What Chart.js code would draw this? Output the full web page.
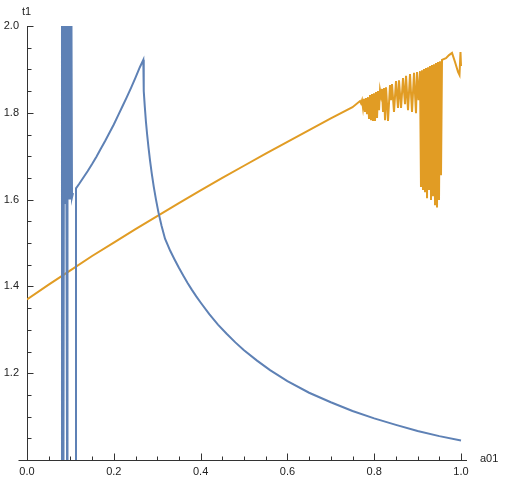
<!DOCTYPE html>
<html><head><meta charset="utf-8">
<script src="https://cdn.jsdelivr.net/npm/chart.js@4/dist/chart.umd.min.js"></script>
<style>html,body{margin:0;padding:0;background:#fff}#wrap{width:505px;height:480px}</style>
</head><body><div id="wrap"><canvas id="c" width="505" height="480"></canvas></div>
<script>
// ---- data ----
const blueX = [0.0806,0.0806,0.0829,0.0841,0.0853,0.0876,0.0899,0.0922,0.0933,0.0956,0.0979,0.1002,0.1025,0.1037,0.1060,0.1080,
  0.1129,0.1129,0.12,0.13,0.14,0.15,0.16,0.17,0.18,0.19,0.20,0.21,0.22,0.23,0.24,0.25,0.26,0.268,
  0.2685,0.2695,0.2715,0.2740,0.2768,0.2800,0.2835,0.2875,0.2920,0.2972,0.3030,0.3100,0.3180,
  0.33,0.34,0.35,0.36,0.37,0.38,0.39,0.40,0.42,0.44,0.46,0.48,0.50,0.53,0.56,0.60,0.65,0.70,0.75,0.80,0.85,0.90,0.95,1.00];
const blueY = [1.0,2.0,1.60,1.0,2.0,1.59,2.0,1.0,2.0,1.60,2.0,1.60,2.0,1.605,1.615,null,
  1.0,1.626,1.636,1.651,1.666,1.682,1.699,1.717,1.735,1.754,1.773,1.794,1.815,1.836,1.858,1.881,1.905,1.922,
  1.880,1.850,1.813,1.780,1.750,1.720,1.690,1.660,1.630,1.600,1.570,1.540,1.510,
  1.482,1.462,1.443,1.425,1.408,1.392,1.377,1.363,1.336,1.312,1.291,1.271,1.253,1.229,1.207,1.182,1.155,1.133,1.113,1.096,1.081,1.067,1.055,1.045];

const orangeX = [0,0.05,0.1,0.15,0.2,0.25,0.3,0.35,0.4,0.45,0.5,0.55,0.6,0.65,0.7,0.75,
  0.7673,0.7696,0.7719,0.7742,0.7765,0.7788,0.7811,0.7834,0.7857,0.7880,0.7903,0.7926,0.7949,0.7972,0.7995,0.8018,
  0.8041,0.8065,0.8088,0.8111,0.8134,0.8157,0.8180,0.8203,0.8226,0.8249,
  0.8272,0.8318,0.8364,0.8387,0.8410,0.8456,0.8502,0.8548,0.8571,0.8618,0.8664,0.8710,0.8733,0.8779,
  0.8825,0.8871,0.8917,0.8963,0.8986,0.9021,
  0.9055,0.9078,0.9101,0.9124,0.9147,0.9171,0.9194,0.9217,0.9240,0.9263,0.9286,0.9309,0.9332,0.9355,
  0.9378,0.9401,0.9424,0.9447,0.9470,0.9493,0.9516,0.9539,0.9562,
  0.9654,0.9724,0.9793,0.9862,0.9931,0.9965,0.9988,1.0000];
const orangeY = [1.370,1.404,1.437,1.470,1.501,1.532,1.562,1.592,1.621,1.650,1.678,1.706,1.733,1.760,1.787,1.813,
  1.827,1.822,1.829,1.811,1.832,1.802,1.834,1.797,1.836,1.788,1.841,1.783,1.843,1.781,1.845,1.781,
  1.848,1.788,1.850,1.806,1.852,1.839,1.855,1.802,1.857,1.783,
  1.859,1.781,1.864,1.829,1.866,1.802,1.873,1.811,1.875,1.811,1.880,1.820,1.885,1.806,
  1.889,1.802,1.892,1.799,1.894,1.829,
  1.896,1.629,1.898,1.622,1.901,1.617,1.903,1.603,1.905,1.622,1.908,1.599,1.910,1.608,
  1.912,1.587,1.915,1.582,1.917,1.599,1.919,1.656,1.922,
  1.926,1.933,1.938,1.917,1.894,1.887,1.940,1.908];

const xTickValues = [0.0,0.2,0.4,0.6,0.8,1.0];
const xTickLabels = ['0.0','0.2','0.4','0.6','0.8','1.0'];
const yTickValues = [1.2,1.4,1.6,1.8,2.0];
const yTickLabels = ['1.2','1.4','1.6','1.8','2.0'];
const xAxisTitle = 'a01';
const yAxisTitle = 't1';

const BLUE = '#5E81B5', ORANGE = '#E19C24';
const FONT = "'Liberation Sans', Arial, sans-serif";

function pts(xs, ys){ return xs.map((x,i)=>({x:x, y:ys[i]})); }

const axesDeco = {
  id:'axesDeco',
  beforeDatasetsDraw(chart){
    const {ctx, chartArea:a, scales:{x,y}} = chart;
    const x0 = Math.round(x.getPixelForValue(0)) + 0.5;
    const yb = Math.round(y.getPixelForValue(1.0)) + 0.5;
    ctx.save();
    ctx.strokeStyle = '#333'; ctx.lineWidth = 1;
    ctx.beginPath();
    ctx.moveTo(x0 - 9, yb); ctx.lineTo(a.right, yb);
    ctx.moveTo(x0, yb); ctx.lineTo(x0, Math.round(y.getPixelForValue(2.0)));
    for (let k = 1; k <= 20; k++) {
      const v = 1 + k*0.05;
      const py = Math.round(y.getPixelForValue(v)) + 0.5;
      const len = (k % 4 === 0) ? 6 : 4;
      ctx.moveTo(x0, py); ctx.lineTo(x0 + len, py);
    }
    for (let k = 1; k <= 20; k++) {
      const v = k*0.05;
      const px = Math.round(x.getPixelForValue(v)) + 0.5;
      const len = (k % 4 === 0) ? 7 : 4;
      ctx.moveTo(px, yb); ctx.lineTo(px, yb - len);
    }
    ctx.stroke();
    ctx.fillStyle = '#222';
    ctx.font = '11px ' + FONT;
    ctx.textBaseline = 'middle'; ctx.textAlign = 'left';
    ctx.fillText(yAxisTitle, 22, 12);
    ctx.fillText(xAxisTitle, 480, 459);
    ctx.restore();
  }
};

new Chart(document.getElementById('c'), {
  type: 'scatter',
  data: { datasets: [
    { data: pts(blueX, blueY), showLine: true, borderColor: BLUE, backgroundColor: BLUE, borderWidth: 2, pointRadius: 0, tension: 0, spanGaps: false },
    { data: pts(orangeX, orangeY), showLine: true, borderColor: ORANGE, backgroundColor: ORANGE, borderWidth: 2, pointRadius: 0, tension: 0 }
  ]},
  options: {
    responsive: false, animation: false, devicePixelRatio: 1,
    layout: { padding: { top: 26, right: 38, left: 0, bottom: 0 } },
    plugins: { legend: { display: false }, tooltip: { enabled: false } },
    scales: {
      x: {
        type: 'linear', min: 0, max: 1.0138,
        grid: { display: false, drawTicks: false, tickLength: 0 }, border: { display: false },
        afterFit(s){ s.height = 20; },
        afterBuildTicks(s){ s.ticks = xTickValues.map(v=>({value:v})); },
        ticks: { autoSkip: false, maxRotation: 0, padding: 5, color: '#222', font: { size: 11, family: FONT },
          callback: (v, i) => xTickLabels[i] }
      },
      y: {
        type: 'linear', min: 1.0, max: 2.0,
        grid: { display: false, drawTicks: false, tickLength: 0 }, border: { display: false },
        afterFit(s){ s.width = 27; },
        afterBuildTicks(s){ s.ticks = yTickValues.map(v=>({value:v})); },
        ticks: { autoSkip: false, padding: 8, color: '#222', font: { size: 11, family: FONT },
          callback: (v, i) => yTickLabels[i] }
      }
    }
  },
  plugins: [axesDeco]
});
</script>
</body></html>
